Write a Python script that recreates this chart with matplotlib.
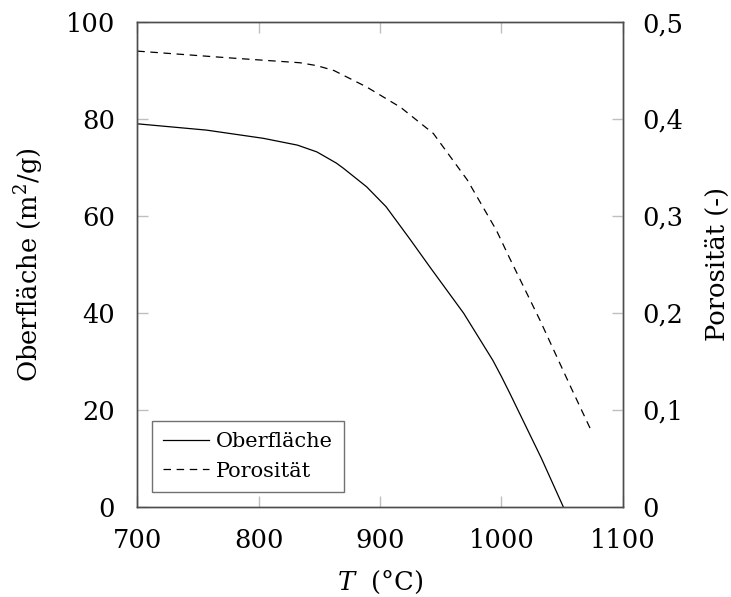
import numpy as np
import matplotlib
matplotlib.use("Agg")
import matplotlib.pyplot as plt

# === Datos ===
T_oberflaeche = [700, 757, 804, 832, 848, 864, 870, 889, 905, 925, 941, 969, 993, 1000, 1007, 1033, 1051]
oberflaeche = [79.0, 77.7, 76.0, 74.6, 73.2, 70.9, 69.8, 66.0, 61.9, 55.1, 49.5, 39.9, 30.2, 26.9, 23.4, 10.0, 0.0]

T_porositaet = [700, 776, 834, 848, 862, 889, 917, 944, 972, 996, 1007, 1032, 1057, 1075]
porositaet = [0.470, 0.463, 0.458, 0.455, 0.450, 0.433, 0.412, 0.385, 0.337, 0.285, 0.256, 0.192, 0.124, 0.076]

xticks = [700, 800, 900, 1000, 1100]
yticks_left = [0, 20, 40, 60, 80, 100]
yticks_right = [0, 0.1, 0.2, 0.3, 0.4, 0.5]
yticklabels_right = ["0", "0,1", "0,2", "0,3", "0,4", "0,5"]

plt.rcParams["font.family"] = ["DejaVu Serif"]
plt.rcParams["mathtext.fontset"] = "dejavuserif"

spine_col = "0.3"
tick_col = "0.75"

fig = plt.figure(figsize=(7.31, 5.97), dpi=100)
ax = fig.add_axes([0.1878, 0.1513, 0.6640, 0.8118])
ax2 = ax.twinx()

l1, = ax.plot(T_oberflaeche, oberflaeche, color="black", lw=0.9, label="Oberfläche")
l2, = ax2.plot(T_porositaet, porositaet, color="black", lw=0.9, linestyle=(0, (6, 4.5)), label="Porosität")

ax.set_xlim(700, 1100)
ax.set_ylim(0, 100)
ax2.set_ylim(0, 0.5)

ax.set_xticks(xticks)
ax.set_yticks(yticks_left)
ax2.set_yticks(yticks_right)
ax2.set_yticklabels(yticklabels_right)

fs = 18.5
ax.tick_params(axis="x", direction="in", length=8, width=1, color=tick_col, top=True, labelsize=fs, pad=15)
ax.tick_params(axis="y", direction="in", length=8, width=1, color=tick_col, right=False, labelsize=fs, pad=16)
ax2.tick_params(axis="y", direction="in", length=8, width=1, color=tick_col, labelsize=fs, pad=14)

for a in (ax, ax2):
    for s in a.spines.values():
        s.set_color(spine_col)
        s.set_linewidth(1.0)

ax.set_xlabel("$T$  (°C)", fontsize=fs, labelpad=11)
ax.set_ylabel("Oberfläche (m$^2$/g)", fontsize=fs, labelpad=14)
ax2.set_ylabel("Porosität (-)", fontsize=fs, labelpad=16)

leg = ax.legend(handles=[l1, l2], loc="lower left", bbox_to_anchor=(0.03, 0.03),
                fontsize=15, frameon=True, fancybox=False, borderpad=0.55,
                handlelength=2.2, handletextpad=0.3, labelspacing=0.5, borderaxespad=0)
leg.get_frame().set_edgecolor(spine_col)
leg.get_frame().set_linewidth(1.0)

plt.savefig("out.png", dpi=100)
